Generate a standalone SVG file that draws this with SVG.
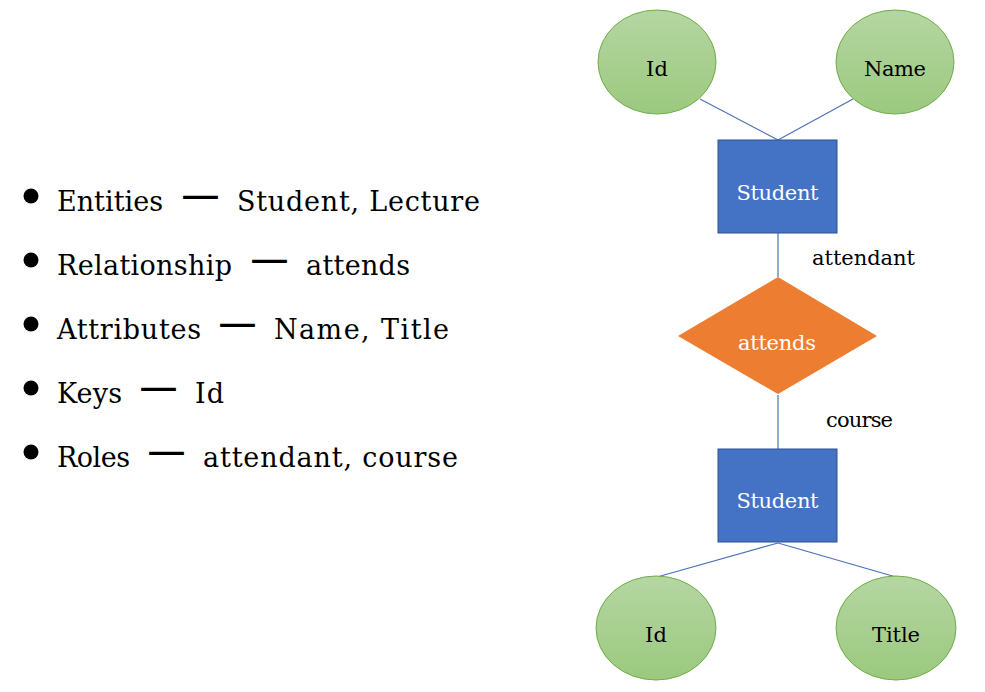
<svg xmlns="http://www.w3.org/2000/svg" width="985" height="692" viewBox="0 0 985 692">
<defs>
<linearGradient id="g" x1="0" y1="0" x2="0" y2="1">
<stop offset="0" stop-color="#b5d6a3"/>
<stop offset="1" stop-color="#9bc97e"/>
</linearGradient>
<style>
.attr{fill:url(#g);stroke:#70ad47;stroke-width:1}
.ent{fill:#4472c4;stroke:#2f528f;stroke-width:1}
.rel{fill:#ed7d31}
.conn line{stroke:#4a72b8;stroke-width:1.2}
text{font-family:"DejaVu Serif","Liberation Serif",serif}
.t{font-size:21px;fill:#000;text-anchor:middle}
.w{font-size:21px;fill:#fff;text-anchor:middle}
.lbl{font-size:21px;fill:#000}
.li{font-size:27px;fill:#000}
.d{font-weight:bold}
</style>
</defs>
<rect width="985" height="692" fill="#fff"/>
<g id="list">
<circle cx="31" cy="196" r="7.5"/>
<circle cx="31" cy="260" r="7.5"/>
<circle cx="31" cy="324" r="7.5"/>
<circle cx="31" cy="388" r="7.5"/>
<circle cx="31" cy="452" r="7.5"/>
<text class="li" y="211"><tspan x="57" textLength="106">Entities</tspan><tspan class="d" x="181" y="205" textLength="39" lengthAdjust="spacingAndGlyphs">—</tspan><tspan x="237" y="211" textLength="243">Student, Lecture</tspan></text>
<text class="li" y="275"><tspan x="57" textLength="175">Relationship</tspan><tspan class="d" x="250" y="269" textLength="39" lengthAdjust="spacingAndGlyphs">—</tspan><tspan x="306" y="275" textLength="104">attends</tspan></text>
<text class="li" y="339"><tspan x="57" textLength="144">Attributes</tspan><tspan class="d" x="218" y="333" textLength="39" lengthAdjust="spacingAndGlyphs">—</tspan><tspan x="274" y="339" textLength="175">Name, Title</tspan></text>
<text class="li" y="403"><tspan x="57" textLength="65">Keys</tspan><tspan class="d" x="139" y="397" textLength="39" lengthAdjust="spacingAndGlyphs">—</tspan><tspan x="195" y="403" textLength="29">Id</tspan></text>
<text class="li" y="467"><tspan x="57" textLength="73">Roles</tspan><tspan class="d" x="147" y="461" textLength="39" lengthAdjust="spacingAndGlyphs">—</tspan><tspan x="203" y="467" textLength="255">attendant, course</tspan></text>
</g>
<g class="conn" id="connectors">
<line x1="700" y1="99" x2="778" y2="140"/>
<line x1="853" y1="99" x2="778" y2="140"/>
<line x1="778" y1="233" x2="778" y2="277"/>
<line x1="778" y1="395" x2="778" y2="449"/>
<line x1="778" y1="543" x2="657" y2="577"/>
<line x1="778" y1="543" x2="896" y2="577"/>
</g>
<g id="id1"><ellipse class="attr" cx="657" cy="62" rx="59" ry="52"/><text class="t" x="657" y="76" textLength="22">Id</text></g>
<g id="name"><ellipse class="attr" cx="895" cy="62" rx="59" ry="52"/><text class="t" x="895" y="76" textLength="62">Name</text></g>
<g id="student1"><rect class="ent" x="718" y="140" width="119" height="93"/><text class="w" x="777.5" y="200" textLength="82">Student</text></g>
<g id="role1"><text class="lbl" x="812" y="265" textLength="103">attendant</text></g>
<g id="attends"><polygon class="rel" points="778,277 877,336 778,394 678,336"/><text class="w" x="777" y="350" textLength="78">attends</text></g>
<g id="role2"><text class="lbl" x="826" y="427" textLength="67">course</text></g>
<g id="student2"><rect class="ent" x="718" y="449" width="119" height="93"/><text class="w" x="777.5" y="508" textLength="82">Student</text></g>
<g id="id2"><ellipse class="attr" cx="656" cy="628" rx="60" ry="52"/><text class="t" x="656" y="642" textLength="22">Id</text></g>
<g id="title"><ellipse class="attr" cx="896" cy="628" rx="60" ry="52"/><text class="t" x="896" y="642" textLength="48">Title</text></g>
</svg>
